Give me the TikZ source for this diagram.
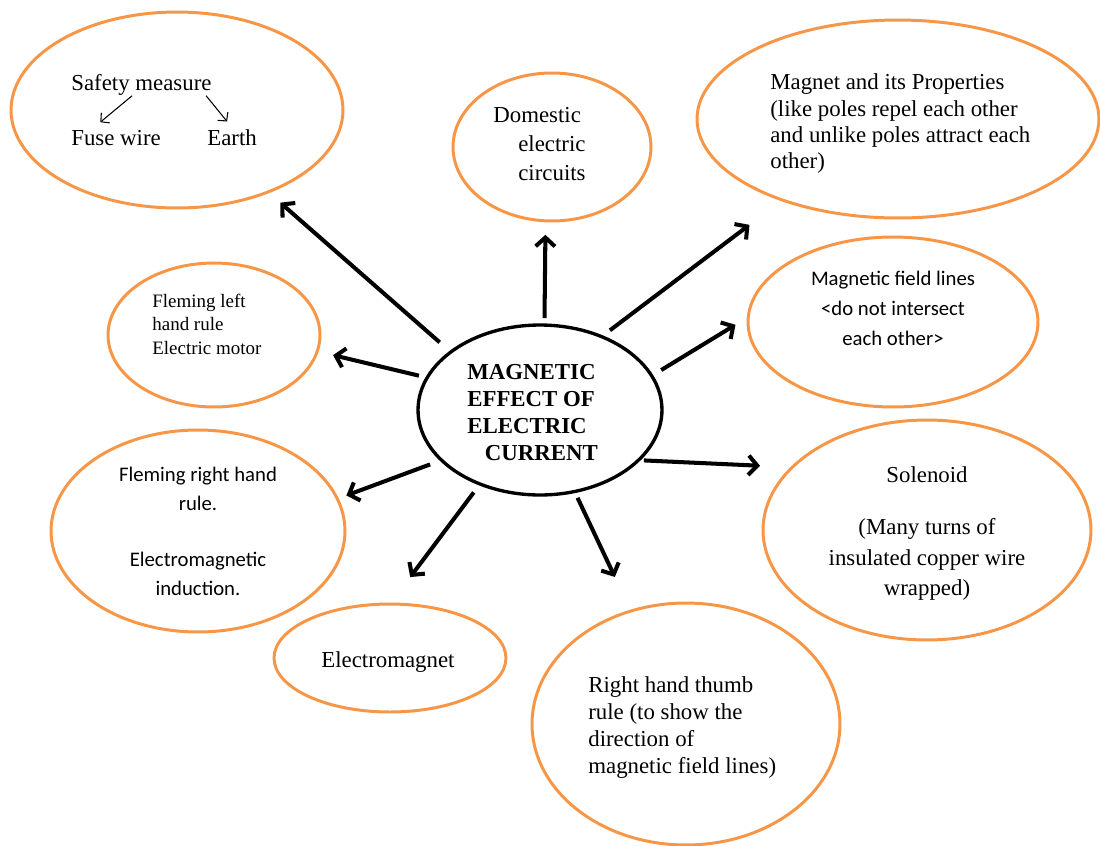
\documentclass[tikz,border=0pt]{standalone}
\usepackage{fontspec}
\setmainfont{Liberation Serif}
\newfontfamily\calibri{Carlito}
\usetikzlibrary{arrows.meta, shapes.geometric}
\definecolor{Bubble}{HTML}{F79646}
\definecolor{Ink}{HTML}{000000}
\tikzset{
    bubble/.style={ellipse, draw=Bubble, line width=1.7pt, inner sep=0pt, outer sep=0pt},
    hubnode/.style={ellipse, draw=Ink, line width=1.9pt, inner sep=0pt, outer sep=0pt},
    txt/.style={inner sep=0pt, align=left, anchor=north west, text=Ink},
    spoke/.style={-{Straight Barb[length=5pt, width=11pt]}, line width=2.3pt, color=Ink},
    twig/.style={-{Straight Barb[length=3.5pt, width=7.5pt]}, line width=0.6pt, color=Ink},
}

\begin{document}
\begin{tikzpicture}[x=0.02cm, y=-0.02cm]
    \useasboundingbox (0,0) rectangle (1100,846);

    % the bubbles
    \node[bubble, minimum width=6.64cm, minimum height=3.92cm] (safety) at (177,110) {};
    \node[bubble, minimum width=3.96cm, minimum height=2.96cm] (domestic) at (552,147) {};
    \node[bubble, minimum width=8.04cm, minimum height=3.96cm] (magnet) at (898,119) {};
    \node[bubble, minimum width=5.80cm, minimum height=3.40cm] (field) at (893,322) {};
    \node[bubble, minimum width=4.24cm, minimum height=2.88cm] (flemingL) at (214,335) {};
    \node[hubnode, minimum width=4.88cm, minimum height=3.40cm] (centre) at (540,410) {};
    \node[bubble, minimum width=5.88cm, minimum height=4.04cm] (flemingR) at (198,531) {};
    \node[bubble, minimum width=4.64cm, minimum height=2.16cm] (electro) at (390,658) {};
    \node[bubble, minimum width=6.56cm, minimum height=4.40cm] (solenoid) at (927,530) {};
    \node[bubble, minimum width=6.16cm, minimum height=4.84cm] (thumb) at (686,724) {};

    % texts inside the bubbles
    \node[txt, font=\fontsize{13}{15.5}\selectfont] (safetyHead) at (71,74) {Safety measure};
    \node[txt, font=\fontsize{13}{15.5}\selectfont] (fuse) at (71,130) {Fuse wire};
    \node[txt, font=\fontsize{13}{15.5}\selectfont] (earth) at (207,129) {Earth};
    \draw[twig] ([xshift=-0.186cm]safetyHead.south) -- ([xshift=-0.316cm, yshift=0.156cm]fuse.north);
    \draw[twig] ([xshift=1.294cm]safetyHead.south) -- ([xshift=-0.1cm, yshift=0.15cm]earth.north);

    \node[txt, font=\fontsize{13}{16.5}\selectfont] (domesticText) at (493,107)
        {Domestic\\\hspace*{0.5cm}electric\\\hspace*{0.5cm}circuits};
    \node[txt, font=\fontsize{13}{15}\selectfont] (magnetText) at (770,73.5)
        {Magnet and its Properties\\(like poles repel each other\\and unlike poles attract each\\other)};
    \node[txt, font={\calibri\fontsize{11.8}{17}\selectfont}, align=center, anchor=north] (fieldText) at (893,271)
        {Magnetic field lines\\<do not intersect\\each other>};
    \node[txt, font=\fontsize{10.8}{13.2}\selectfont] (flemingLText) at (152,294)
        {Fleming left\\hand rule\\Electric motor};
    \node[txt, font=\bfseries\fontsize{13}{15.4}\selectfont] (centreText) at (467,364)
        {MAGNETIC\\EFFECT OF\\ELECTRIC\\\hspace*{0.35cm}CURRENT};
    \node[txt, font={\calibri\fontsize{11.8}{16.6}\selectfont}, align=center, anchor=north] (flemingRText) at (198,467)
        {Fleming right hand\\rule.\\[0.52cm]Electromagnetic\\induction.};
    \node[txt, font=\fontsize{13}{17.6}\selectfont, align=center, anchor=north] (solenoidText) at (927,466)
        {Solenoid\\[0.42cm](Many turns of\\insulated copper wire\\wrapped)};
    \node[txt, font=\fontsize{13}{15.5}\selectfont] (thumbText) at (588,676)
        {Right hand thumb\\rule (to show the\\direction of\\magnetic field lines)};
    \node[txt, font=\fontsize{13}{15.5}\selectfont] (electroText) at (321,651) {Electromagnet};

    % spokes out of the centre
    \draw[spoke, shorten <=0.296cm, shorten >=0.326cm] (centre.147.8) -- (safety.-42.1);
    \draw[spoke, shorten <=0.14cm, shorten >=0.28cm] (centre.87) -- (domestic.-95);
    \draw[spoke, shorten <=0.21cm, shorten >=0.826cm] (centre.50.7) -- (magnet.-145.5);
    \draw[spoke, shorten <=0.224cm, shorten >=0.30cm] (centre.17.3) -- (field.178);
    \draw[spoke, shorten <=0.17cm, shorten >=0.326cm] (centre.164.9) -- (flemingL.-9.5);
    \draw[spoke, shorten <=0.11cm, shorten >=0.648cm] (centre.-27.9) -- (solenoid.155);
    \draw[spoke, shorten <=0.244cm, shorten >=0.194cm] (centre.-153.4) -- (flemingR.13.7);
    \draw[spoke, shorten <=0.21cm, shorten >=0.674cm] (centre.-129.3) -- (electro.north);
    \draw[spoke, shorten <=0.14cm, shorten >=0.754cm] (centre.-67.2) -- (thumb.116.1);
\end{tikzpicture}
\end{document}
